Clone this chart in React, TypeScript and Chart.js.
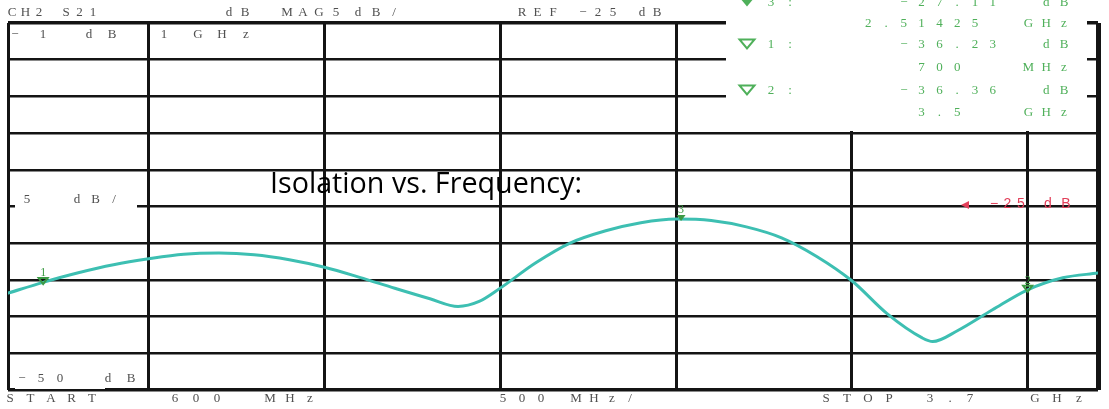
import React, { useEffect, useRef } from "react";
import { Chart, registerables } from "chart.js";

Chart.register(...registerables);

// ---- data ----
const freqGHz = [0.6, 0.7, 0.8, 0.9, 1.0, 1.1, 1.2, 1.3, 1.4, 1.5, 1.6, 1.7, 1.8, 1.88, 1.94, 2.0, 2.1, 2.2, 2.3, 2.4, 2.5, 2.6, 2.7, 2.8, 2.9, 3.0, 3.1, 3.2, 3.23, 3.3, 3.4, 3.5, 3.6, 3.7];
const s21dB = [-36.8, -35.33, -34.03, -32.94, -32.13, -31.51, -31.35, -31.58, -32.26, -33.28, -34.65, -36.14, -37.57, -38.62, -37.94, -36.12, -32.7, -29.95, -28.3, -27.2, -26.7, -26.9, -27.77, -29.26, -31.8, -35.12, -39.6, -42.9, -43.4, -41.93, -39.07, -36.35, -34.71, -34.07];

const gridFreqGHz = [0.6, 1.0, 1.5, 2.0, 2.5, 3.0, 3.5, 3.7];
const yMinDb = -50;
const yMaxDb = 0;
const yStepDb = 5;

const markerIds = ["1", "2", "3"];
const markerFreqGHz = [0.7, 3.5, 2.51425];
const markerTraceDb = [-35.3, -36.35, -26.7];
const markerActive = [false, false, true];

const readoutLabels = ["3 :", "", "1 :", "", "2 :", ""];
const readoutFilled = [true, false, false, false, false, false];
const readoutValues = ["−27.11  dB", "2.51425  GHz", "−36.23  dB", "700   MHz", "−36.36  dB", "3.5   GHz"];

const titleText = "Isolation vs. Frequency:";

const TRACE = "#3dbfb2";
const GREEN = "#4fb05a";
const GRAY = "#505050";
const RED = "#e2405a";

function spaced(ctx: CanvasRenderingContext2D, s: string, x0: number, y: number, pitch: number) {
  for (let i = 0; i < s.length; i++) {
    const c = s[i];
    if (c !== " ") ctx.fillText(c, x0 + i * pitch, y);
  }
}

function tri(ctx: CanvasRenderingContext2D, cx: number, cy: number, w: number, h: number, filled: boolean, color: string) {
  ctx.beginPath();
  ctx.moveTo(cx - w / 2, cy - h / 2);
  ctx.lineTo(cx + w / 2, cy - h / 2);
  ctx.lineTo(cx, cy + h / 2);
  ctx.closePath();
  if (filled) {
    ctx.fillStyle = color;
    ctx.fill();
  } else {
    ctx.strokeStyle = color;
    ctx.lineWidth = 2;
    ctx.stroke();
  }
}

const overlay = {
  id: "overlay",
  beforeDatasetsDraw(chart: any) {
    const ctx = chart.ctx as CanvasRenderingContext2D;
    ctx.save();
    ctx.fillStyle = "#fff";
    ctx.fillRect(726, 0, 1087 - 726, 131);
    ctx.fillRect(15, 188, 122, 26);
    ctx.fillRect(15, 360, 90, 29);
    ctx.restore();
  },
  afterDatasetsDraw(chart: any) {
    const ctx = chart.ctx as CanvasRenderingContext2D;
    const xs = chart.scales.x;
    const ys = chart.scales.y;
    ctx.save();
    ctx.font = '12px "Liberation Serif"';
    ctx.textAlign = "center";
    ctx.textBaseline = "middle";
    markerIds.forEach((id, i) => {
      const px = xs.getPixelForValue(markerFreqGHz[i]);
      const py = ys.getPixelForValue(markerTraceDb[i]);
      ctx.fillStyle = "#3c9a44";
      ctx.fillText(id, px, py - 9);
      tri(ctx, px, py - 1, 9, 6, markerActive[i], "#3c9a44");
    });
    ctx.restore();
  },
  afterDraw(chart: any) {
    const ctx = chart.ctx as CanvasRenderingContext2D;
    ctx.save();
    ctx.textAlign = "center";
    ctx.textBaseline = "middle";

    // header
    ctx.fillStyle = GRAY;
    ctx.font = '13px "Liberation Serif"';
    spaced(ctx, "CH2 S21", 12, 13, 13.5);
    spaced(ctx, "dB", 229, 13, 16);
    spaced(ctx, "MAG", 287, 13, 16);
    spaced(ctx, "5", 336, 13, 16);
    spaced(ctx, "dB/", 358, 13, 18);
    spaced(ctx, "REF", 522, 13, 15.5);
    spaced(ctx, "−25", 583, 13, 15);
    spaced(ctx, "dB", 642, 13, 15);

    // in-grid labels
    spaced(ctx, "−1", 15, 35, 28);
    spaced(ctx, "dB", 89, 35, 23);
    spaced(ctx, "1", 164, 35, 20);
    spaced(ctx, "GHz", 198, 35, 24);
    spaced(ctx, "5", 27, 200, 20);
    spaced(ctx, "dB/", 77, 200, 18.5);
    spaced(ctx, "−50", 22, 379, 19);
    spaced(ctx, "dB", 108, 379, 23);

    // footer
    spaced(ctx, "START", 10, 399, 20.5);
    spaced(ctx, "600", 175, 399, 21);
    spaced(ctx, "MHz", 270, 399, 20);
    spaced(ctx, "500", 503, 399, 19);
    spaced(ctx, "MHz/", 576, 399, 18);
    spaced(ctx, "STOP", 826, 399, 21);
    spaced(ctx, "3.7", 930, 399, 20);
    spaced(ctx, "GHz", 1035, 399, 22);

    // marker readout
    const rowY = [3, 24, 45, 68, 91, 113];
    ctx.font = '13px "Liberation Serif"';
    readoutValues.forEach((v, i) => {
      const y = rowY[i];
      const x0 = 1064 - (v.length - 1) * 17.8;
      ctx.fillStyle = GREEN;
      spaced(ctx, v, x0, y, 17.8);
      const lab = readoutLabels[i];
      if (lab) {
        tri(ctx, 747, y - 1, 15, 9, readoutFilled[i], GREEN);
        ctx.fillStyle = GREEN;
        spaced(ctx, lab, 771, y, 9.5);
      }
    });

    // reference marker
    ctx.fillStyle = RED;
    ctx.beginPath();
    ctx.moveTo(961, 205);
    ctx.lineTo(969, 201);
    ctx.lineTo(969, 209);
    ctx.closePath();
    ctx.fill();
    ctx.font = '14px "Liberation Sans"';
    spaced(ctx, "−25", 994, 204, 13.5);
    spaced(ctx, "dB", 1048, 204, 18);

    // title
    ctx.fillStyle = "#000";
    ctx.font = '30px "Open Sans"';
    ctx.textAlign = "left";
    ctx.textBaseline = "alphabetic";
    const w = ctx.measureText(titleText).width;
    const sx = 312 / w;
    ctx.translate(270, 193);
    ctx.scale(sx, 1);
    ctx.fillText(titleText, 0, 0);
    ctx.restore();
  },
};

export default function App() {
  const ref = useRef<HTMLCanvasElement | null>(null);
  useEffect(() => {
    if (!ref.current) return;
    const chart = new Chart(ref.current, {
      type: "line",
      data: {
        datasets: [
          {
            data: freqGHz.map((f, i) => ({ x: f, y: s21dB[i] })),
            borderColor: TRACE,
            borderWidth: 3,
            pointRadius: 0,
            cubicInterpolationMode: "monotone",
            borderCapStyle: "round",
          },
        ],
      },
      options: {
        responsive: false,
        animation: false,
        events: [],
        layout: { padding: { left: 8, right: 11, top: 23, bottom: 19 } },
        plugins: { legend: { display: false }, tooltip: { enabled: false } },
        scales: {
          x: {
            type: "linear",
            min: gridFreqGHz[0],
            max: gridFreqGHz[gridFreqGHz.length - 1],
            afterBuildTicks: (scale: any) => {
              scale.ticks = gridFreqGHz.map((v) => ({ value: v }));
            },
            ticks: { display: false },
            grid: {
              color: "#141414",
              drawTicks: false,
              lineWidth: (c: any) => (c.tick && c.tick.value === 3.7 ? 5 : 3),
            },
            border: { display: false },
          },
          y: {
            min: yMinDb,
            max: yMaxDb,
            ticks: { display: false, stepSize: yStepDb },
            grid: {
              color: "#141414",
              drawTicks: false,
              lineWidth: (c: any) => (c.tick && (c.tick.value === 0 || c.tick.value === -50) ? 3.5 : 2.5),
            },
            border: { display: false },
          },
        },
      },
      plugins: [overlay],
    } as any);
    return () => chart.destroy();
  }, []);
  return (
    <div style={{ position: "fixed", left: 0, top: 0, width: 1109, height: 409, background: "#fff" }}>
      <canvas ref={ref} width={1109} height={409} style={{ display: "block", width: 1109, height: 409 }} />
    </div>
  );
}
